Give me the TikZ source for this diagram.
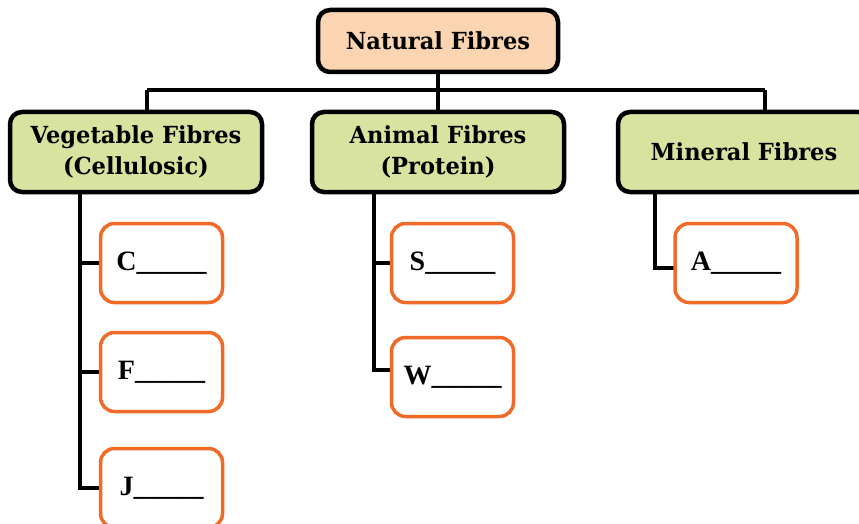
\documentclass[tikz,border=0pt]{standalone}
\usepackage{fontspec}
\usepackage{xcolor}
\usetikzlibrary{positioning}
\newfontfamily\blankfont{Liberation Serif}
\newfontfamily\headfont{DejaVu Serif}[FakeStretch=0.96]
\definecolor{peach}{RGB}{251,212,178}
\definecolor{leaf}{RGB}{215,227,158}
\definecolor{rust}{RGB}{240,106,40}
\tikzstyle{root box}=[draw=black, fill=peach, line width=4.5pt, rounded corners=12pt, minimum width=240pt, minimum height=62pt, font=\headfont\fontsize{23.5}{31}\selectfont\bfseries, align=center]
\tikzstyle{group box}=[draw=black, fill=leaf, line width=4.5pt, rounded corners=12pt, minimum width=252pt, minimum height=80pt, font=\headfont\fontsize{23.5}{31}\selectfont\bfseries, align=center]
\tikzstyle{blank box}=[draw=rust, fill=white, line width=3.5pt, rounded corners=14pt, minimum width=122pt, minimum height=79pt, font=\blankfont\fontsize{28}{30}\selectfont\bfseries]
\tikzstyle{tree_edge}=[-, draw=black, line width=4.5pt]
\begin{document}
\begin{tikzpicture}[x=1pt, y=-1pt]
        \useasboundingbox (0,0) rectangle (859,524);
        \clip (0,0) rectangle (859,524);
        % spine and bus points
        \coordinate (busv) at (147,90);
        \coordinate (busm) at (765,90);
        \coordinate (vegspine) at (80,192);
        \coordinate (anispine) at (374,192);
        \coordinate (minspine) at (655,192);
        % edges
        \draw[style={tree_edge}] (busv) -- (busm);
        \draw[style={tree_edge}] (438,41) -- (438,152);
        \draw[style={tree_edge}] (busv) -- (busv |- 0,152);
        \draw[style={tree_edge}] (busm) -- (busm |- 0,152);
        \draw[style={tree_edge}] (vegspine) |- (161,263);
        \draw[style={tree_edge}] (vegspine) |- (161,372);
        \draw[style={tree_edge}] (vegspine) |- (161,488);
        \draw[style={tree_edge}] (anispine) |- (452,263);
        \draw[style={tree_edge}] (anispine) |- (452,370);
        \draw[style={tree_edge}] (minspine) |- (736,268);
        % nodes
        \node[style=root box] (nat) at (438,41) {Natural Fibres};
        \node[style=group box] (veg) at (136,152) {Vegetable Fibres\\(Cellulosic)};
        \node[style=group box] (ani) at (438,152) {Animal Fibres\\(Protein)};
        \node[style=group box] (min) at (744,152) {Mineral Fibres};
        \node[style=blank box] (c) at (161.5,263) {C\_\_\_\_\_};
        \node[style=blank box] (f) at (161.5,372) {F\_\_\_\_\_};
        \node[style=blank box] (j) at (161.5,488) {J\_\_\_\_\_};
        \node[style=blank box] (s) at (452.5,263) {S\_\_\_\_\_};
        \node[style=blank box] (w) at (452.5,377) {W\_\_\_\_\_};
        \node[style=blank box] (a) at (736,263) {A\_\_\_\_\_};
    \end{tikzpicture}
\end{document}
